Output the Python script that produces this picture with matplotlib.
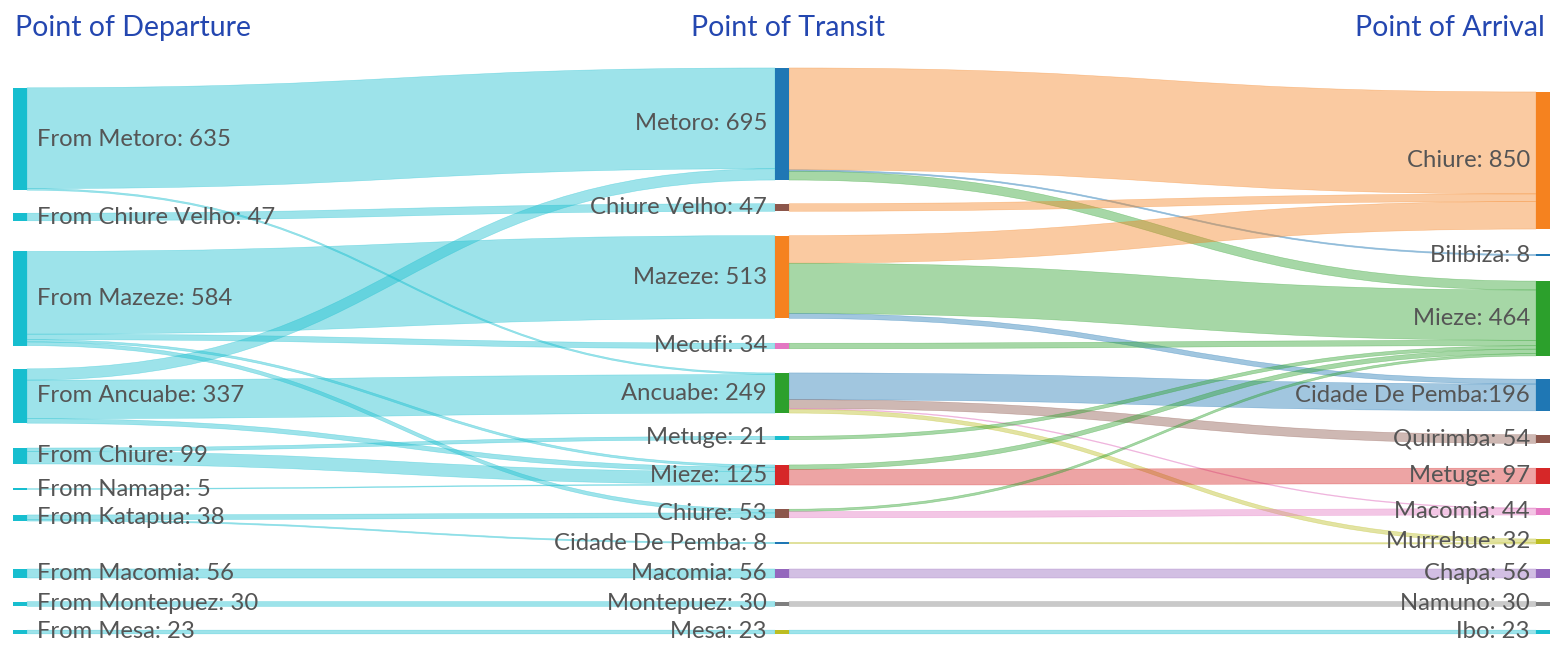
from matplotlib import pyplot as plt
from matplotlib.path import Path
from matplotlib.patches import PathPatch, Rectangle

plt.rcParams["font.family"] = ["Lato", "DejaVu Sans"]

# nodes per column
departure = ["From Metoro", "From Chiure Velho", "From Mazeze", "From Ancuabe", "From Chiure",
             "From Namapa", "From Katapua", "From Macomia", "From Montepuez", "From Mesa"]
transit = ["Metoro", "Chiure Velho", "Mazeze", "Mecufi", "Ancuabe", "Metuge", "Mieze",
           "Chiure", "Cidade De Pemba", "Macomia", "Montepuez", "Mesa"]
arrival = ["Chiure", "Bilibiza", "Mieze", "Cidade De Pemba", "Quirimba", "Metuge", "Macomia",
           "Murrebue", "Chapa", "Namuno", "Ibo"]

# departure -> transit flows
dt_src = ["From Metoro", "From Metoro", "From Chiure Velho", "From Mazeze", "From Mazeze",
          "From Mazeze", "From Mazeze", "From Ancuabe", "From Ancuabe", "From Ancuabe",
          "From Chiure", "From Chiure", "From Namapa", "From Katapua", "From Katapua",
          "From Macomia", "From Montepuez", "From Mesa"]
dt_tgt = ["Metoro", "Ancuabe", "Chiure Velho", "Mazeze", "Mecufi", "Mieze", "Chiure",
          "Metoro", "Ancuabe", "Mieze", "Metuge", "Mieze", "Mieze", "Chiure",
          "Cidade De Pemba", "Macomia", "Montepuez", "Mesa"]
dt_val = [625, 10, 47, 513, 34, 14, 23, 70, 239, 28, 21, 78, 5, 30, 8, 56, 30, 23]

# transit -> arrival flows
ta_src = ["Metoro", "Metoro", "Metoro", "Chiure Velho", "Mazeze", "Mazeze", "Mazeze", "Mecufi",
          "Ancuabe", "Ancuabe", "Ancuabe", "Ancuabe", "Metuge", "Mieze", "Mieze", "Chiure",
          "Chiure", "Cidade De Pemba", "Macomia", "Montepuez", "Mesa"]
ta_tgt = ["Chiure", "Bilibiza", "Mieze", "Chiure", "Chiure", "Mieze", "Cidade De Pemba", "Mieze",
          "Cidade De Pemba", "Quirimba", "Macomia", "Murrebue", "Mieze", "Mieze", "Metuge",
          "Mieze", "Macomia", "Murrebue", "Chapa", "Namuno", "Ibo"]
ta_val = [632, 8, 55, 47, 171, 312, 30, 34, 166, 54, 5, 24, 21, 28, 97, 14, 39, 8, 56, 30, 23]

# layout (pixels)
dep_y = [139, 217, 298.5, 396, 456, 489, 518, 573.5, 604, 632]
tra_y = [124, 207.5, 277, 346, 393, 438, 475, 513.5, 543, 573.5, 604, 632]
arr_y = [160.5, 255, 318.5, 395, 439, 476, 511.5, 541.5, 573.5, 604, 632]
col_x = [13, 775, 1536]
node_w = 14
k = 0.1613

tab = {"blue": "#1f77b4", "orange": "#f5821f", "green": "#2ca02c", "red": "#d62728",
       "purple": "#9467bd", "brown": "#8c564b", "pink": "#e377c2", "gray": "#7f7f7f",
       "olive": "#bcbd22", "cyan": "#17becf"}
dep_col = ["cyan"] * len(departure)
tra_col = ["blue", "brown", "orange", "pink", "green", "cyan", "red", "brown", "blue",
           "purple", "gray", "olive"]
arr_col = ["orange", "blue", "green", "blue", "brown", "red", "pink", "olive", "purple",
           "gray", "cyan"]

fig = plt.figure(figsize=(15.5, 6.46), dpi=100)
ax = fig.add_axes([0, 0, 1, 1])
ax.set_xlim(0, 1550)
ax.set_ylim(646, 0)
ax.axis("off")


def node_values(names, src, tgt, val, side):
    out = []
    for n in names:
        lst = src if side == "out" else tgt
        out.append(sum(v for s, v in zip(lst, val) if s == n))
    return out


dep_v = node_values(departure, dt_src, dt_tgt, dt_val, "out")
tra_v = node_values(transit, dt_src, dt_tgt, dt_val, "in")
arr_v = node_values(arrival, ta_src, ta_tgt, ta_val, "in")


def draw_links(snames, sy, sv, tnames, ty, tv, src, tgt, val, x0, x1, color_fn):
    links = list(zip(src, tgt, val))
    s_off = {}
    for n, c, v in zip(snames, sy, sv):
        mine = sorted([l for l in links if l[0] == n], key=lambda l: ty[tnames.index(l[1])])
        top = c - v * k / 2
        for l in mine:
            s_off[l] = top
            top += l[2] * k
    t_off = {}
    for n, c, v in zip(tnames, ty, tv):
        mine = sorted([l for l in links if l[1] == n], key=lambda l: sy[snames.index(l[0])])
        top = c - v * k / 2
        for l in mine:
            t_off[l] = top
            top += l[2] * k
    xm = (x0 + x1) / 2
    for l in links:
        h = l[2] * k
        a, b = s_off[l], t_off[l]
        verts = [(x0, a), (xm, a), (xm, b), (x1, b), (x1, b + h),
                 (xm, b + h), (xm, a + h), (x0, a + h), (x0, a)]
        codes = [Path.MOVETO, Path.CURVE4, Path.CURVE4, Path.CURVE4, Path.LINETO,
                 Path.CURVE4, Path.CURVE4, Path.CURVE4, Path.CLOSEPOLY]
        c = color_fn(l)
        ax.add_patch(PathPatch(Path(verts, codes), facecolor=c, edgecolor=c,
                               lw=0.4, alpha=0.42, zorder=1))


draw_links(departure, dep_y, dep_v, transit, tra_y, tra_v, dt_src, dt_tgt, dt_val,
           col_x[0] + node_w, col_x[1], lambda l: tab["cyan"])
draw_links(transit, tra_y, tra_v, arrival, arr_y, arr_v, ta_src, ta_tgt, ta_val,
           col_x[1] + node_w, col_x[2], lambda l: tab[arr_col[arrival.index(l[1])]])


def draw_nodes(names, ys, vals, cols, x):
    for n, c, v, col in zip(names, ys, vals, cols):
        h = max(v * k, 2.5)
        ax.add_patch(Rectangle((x, c - h / 2), node_w, h, facecolor=tab[col],
                               edgecolor="none", zorder=3))


draw_nodes(departure, dep_y, dep_v, dep_col, col_x[0])
draw_nodes(transit, tra_y, tra_v, tra_col, col_x[1])
draw_nodes(arrival, arr_y, arr_v, arr_col, col_x[2])

lab_kw = dict(fontsize=17.2, color="#555555", va="center", zorder=4)
for n, c, v in zip(departure, dep_y, dep_v):
    ax.text(37, c, f"{n}: {v}", ha="left", **lab_kw)
for n, c, v in zip(transit, tra_y, tra_v):
    ax.text(767, c, f"{n}: {v}", ha="right", **lab_kw)
for n, c, v in zip(arrival, arr_y, arr_v):
    sep = ":" if n == "Cidade De Pemba" else ": "
    ax.text(1530, c, f"{n}{sep}{v}", ha="right", **lab_kw)

title_kw = dict(fontsize=20.5, color="#2447b0", va="center")
ax.text(15, 28, "Point of Departure", ha="left", **title_kw)
ax.text(788, 28, "Point of Transit", ha="center", **title_kw)
ax.text(1545, 28, "Point of Arrival", ha="right", **title_kw)

fig.savefig("out.png", dpi=100)
